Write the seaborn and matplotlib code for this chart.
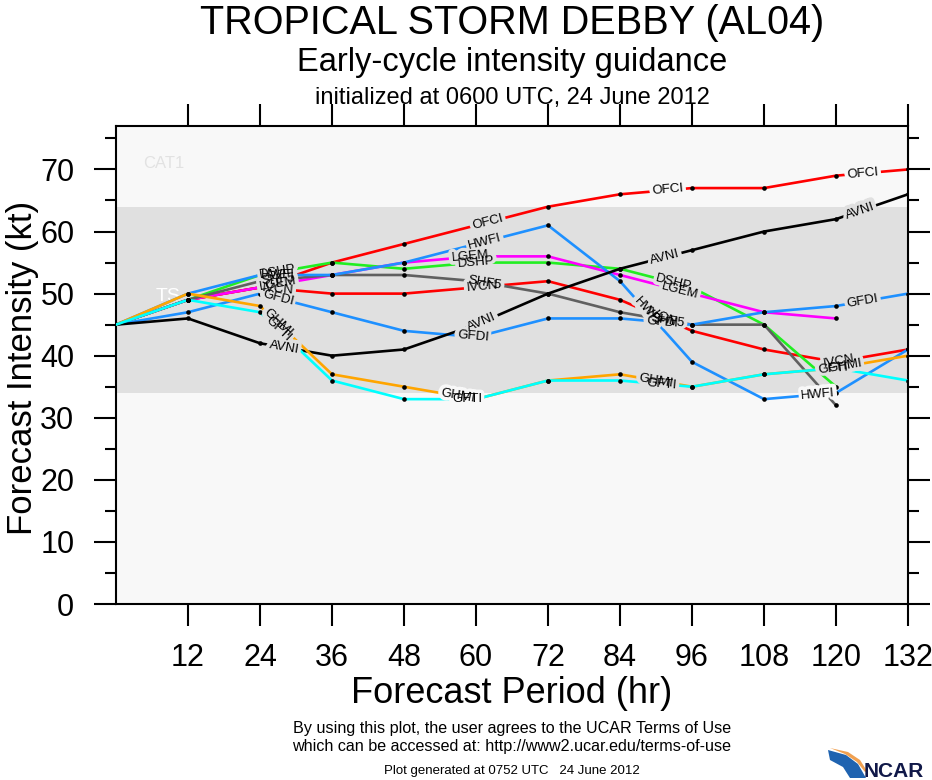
import numpy as np
import pandas as pd
import matplotlib
matplotlib.use("Agg")
import matplotlib.pyplot as plt
import matplotlib.patheffects as pe
from matplotlib.patches import Polygon
import seaborn as sns

# forecast hours and guidance intensities (kt)
hours = [0, 12, 24, 36, 48, 60, 72, 84, 96, 108, 120, 132]
ofci = [45, 49, 51, 55, 58, 61, 64, 66, 67, 67, 69, 70]
ivcn = [45, 49, 51, 50, 50, 51, 52, 49, 44, 41, 39, 41]
dshp = [45, 49, 53, 55, 54, 55, 55, 54, 51, 45, 35, np.nan]
lgem = [45, 49, 51, 53, 55, 56, 56, 53, 50, 47, 46, np.nan]
shf5 = [45, 49, 52, 53, 53, 52, 50, 47, 45, 45, 32, np.nan]
hwfi = [45, 50, 53, 53, 55, 58, 61, 52, 39, 33, 34, 41]
gfdi = [45, 47, 50, 47, 44, 43, 46, 46, 45, 47, 48, 50]
avni = [45, 46, 42, 40, 41, 45, 50, 54, 57, 60, 62, 66]
ghmi = [45, 50, 48, 37, 35, 33, 36, 37, 35, 37, 38, 40]
gfti = [45, 49, 47, 36, 33, 33, 36, 36, 35, 37, 38, 36]

models = ["OFCI", "IVCN", "DSHP", "LGEM", "SHF5", "HWFI", "GFDI", "AVNI", "GHMI", "GFTI"]
series = [ofci, ivcn, dshp, lgem, shf5, hwfi, gfdi, avni, ghmi, gfti]
colors = {"OFCI": "#ff0000", "IVCN": "#ff0000", "DSHP": "#22ee22", "LGEM": "#ff00ff",
          "SHF5": "#606060", "HWFI": "#1e90ff", "GFDI": "#1e90ff", "AVNI": "#000000",
          "GHMI": "#ffa500", "GFTI": "#00ffff"}
# hours where the line labels sit
label_hours = {"OFCI": [62, 92, 124.5], "AVNI": [28, 61, 91.5, 124],
               "HWFI": [27, 61.5, 88.5, 117], "GFDI": [27, 59.5, 91, 124.5],
               "GHMI": [27, 57, 90, 121.5], "GFTI": [27, 58.5, 91, 119.5],
               "DSHP": [27, 60, 93], "LGEM": [27, 59, 94],
               "SHF5": [27, 61.5, 92], "IVCN": [27, 61, 91, 120.5]}

rows = []
for m, vals in zip(models, series):
    for h, v in zip(hours, vals):
        if not np.isnan(v):
            rows.append((m, h, v))
df = pd.DataFrame(rows, columns=["model", "hour", "kt"])

sns.set_style("ticks")
plt.rcParams["font.family"] = ["Liberation Sans", "DejaVu Sans"]
plt.rcParams["text.color"] = "black"
plt.rcParams["xtick.color"] = "black"
plt.rcParams["ytick.color"] = "black"

W, H = 932, 780
fig = plt.figure(figsize=(W / 100, H / 100), dpi=100)
ax = fig.add_axes([116 / W, 1 - 604 / H, 792 / W, 478 / H])
ax.set_facecolor("#f8f8f8")
ax.axhspan(34, 64, color="#e0e0e0", zorder=0, lw=0)
ax.set_xlim(0, 132)
ax.set_ylim(0, 77)

sns.lineplot(data=df, x="hour", y="kt", hue="model", hue_order=models, palette=colors,
             lw=1.9, legend=False, estimator=None, sort=False, ax=ax, zorder=3)
sns.scatterplot(data=df[df["hour"] > 0], x="hour", y="kt", color="black", s=11,
                linewidth=0, legend=False, ax=ax, zorder=4)

ax.text(8.7, 49.5, "TS", color="white", fontsize=14, ha="center", va="center", zorder=2)
ax.text(8, 71, "CAT1", color="#e2e2e2", fontsize=12, ha="center", va="center", zorder=2)

# line labels, turned along the segment they sit on; gaps first, then the words
labels = []
for m, vals in zip(models, series):
    v = np.array(vals, dtype=float)
    ok = ~np.isnan(v)
    hh = np.array(hours)[ok]
    vv = v[ok]
    for h in label_hours[m]:
        y = np.interp(h, hh, vv)
        i = min(np.searchsorted(hh, h), len(hh) - 1)
        p0 = ax.transData.transform((hh[i - 1], vv[i - 1]))
        p1 = ax.transData.transform((hh[i], vv[i]))
        ang = np.degrees(np.arctan2(p1[1] - p0[1], p1[0] - p0[0]))
        labels.append((m, h, y, ang))

for m, h, y, ang in labels:
    bg = "#e0e0e0" if 34 <= y <= 64 else "#f8f8f8"
    ax.text(h, y, m, fontsize=9.5, ha="center", va="center", rotation=ang,
            rotation_mode="anchor", zorder=4.5, color=bg,
            path_effects=[pe.withStroke(linewidth=5, foreground=bg)])
for m, h, y, ang in labels:
    ax.text(h, y, m, fontsize=9.5, ha="center", va="center", rotation=ang,
            rotation_mode="anchor", zorder=5, color="black")

ax.set_xticks(range(12, 133, 12))
ax.set_yticks(range(0, 71, 10))
ax.set_yticks(range(5, 76, 10), minor=True)
ax.tick_params(which="major", direction="out", length=16, width=1.5, labelsize=22,
               top=True, right=True, labeltop=False, labelright=False)
ax.tick_params(axis="y", which="minor", direction="out", length=8, width=1.5, right=True)
ax.tick_params(axis="x", which="minor", bottom=False, top=False)
ax.tick_params(axis="y", pad=14)
ax.tick_params(axis="x", pad=12)
ax.set_xlabel("")
ax.set_ylabel("")
for s in ax.spines.values():
    s.set_linewidth(1.5)
    s.set_color("black")


def fx(x):
    return x / W


def fy(y):
    return 1 - y / H


fig.text(fx(512), fy(34), "TROPICAL STORM DEBBY (AL04)", fontsize=28.5, ha="center", va="baseline")
fig.text(fx(512), fy(71), "Early-cycle intensity guidance", fontsize=23.5, ha="center", va="baseline")
fig.text(fx(512), fy(104), "initialized at 0600 UTC, 24 June 2012", fontsize=17, ha="center", va="baseline")
fig.text(fx(23), fy(368), "Forecast Intensity (kt)", fontsize=25, rotation=90, ha="center", va="center")
fig.text(fx(512), fy(703), "Forecast Period (hr)", fontsize=26, ha="center", va="baseline")
fig.text(fx(512), fy(728), "By using this plot, the user agrees to the UCAR Terms of Use",
         fontsize=11.6, ha="center", va="center")
fig.text(fx(512), fy(746), "which can be accessed at: http://www2.ucar.edu/terms-of-use",
         fontsize=11.6, ha="center", va="center")
fig.text(fx(512), fy(771), "Plot generated at 0752 UTC   24 June 2012", fontsize=9.5,
         ha="center", va="center")

# NCAR logo
swoosh = [(828, 750), (846, 755), (858, 764), (866, 778), (850, 778), (843, 767), (830, 760)]
fig.patches.append(Polygon([(fx(a), fy(b)) for a, b in swoosh], closed=True,
                           transform=fig.transFigure, facecolor="#1f63b0", edgecolor="none"))
arc = [(830, 748), (848, 752), (860, 760), (867, 771), (865, 772), (857, 762), (845, 754)]
fig.patches.append(Polygon([(fx(a), fy(b)) for a, b in arc], closed=True,
                           transform=fig.transFigure, facecolor="#f0a050", edgecolor="none"))
fig.text(fx(864), fy(777), "NCAR", fontsize=15, fontweight="bold", color="#101848",
         ha="left", va="baseline")

fig.savefig("out.png", dpi=100, facecolor="white")
